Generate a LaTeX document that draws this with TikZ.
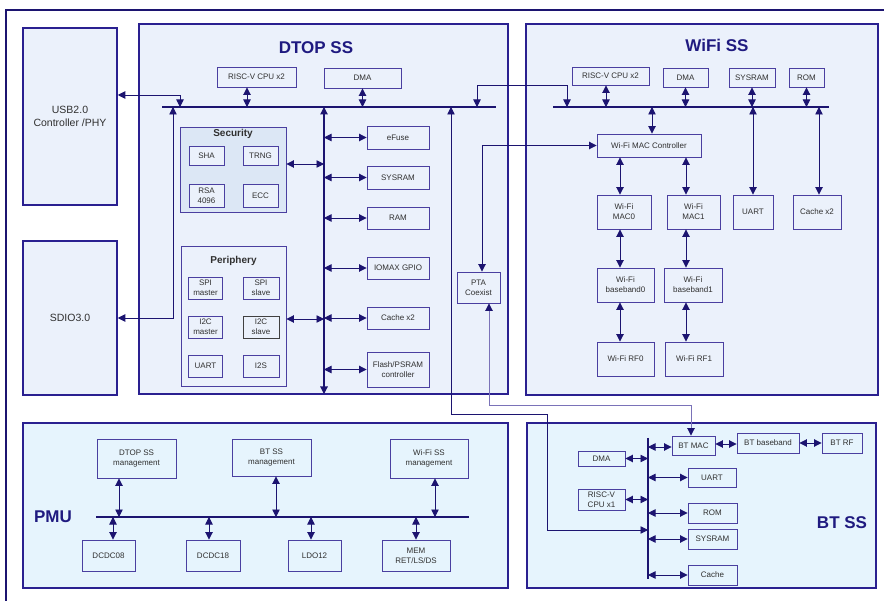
\documentclass[tikz,border=0pt]{standalone}
\usepackage{fontspec}
\setmainfont{Liberation Sans}
\usetikzlibrary{arrows.meta}
\definecolor{nav}{HTML}{1C1470}
\definecolor{bord}{HTML}{4A3FA0}
\definecolor{ssb}{HTML}{2A2090}
\definecolor{fillA}{HTML}{EBF1FB}
\definecolor{fillB}{HTML}{E6F4FD}
\definecolor{fillS}{HTML}{DCE7F5}
\definecolor{txt}{HTML}{303030}
\definecolor{ttlc}{HTML}{1F1A80}
\definecolor{pale}{HTML}{7A72B8}
\begin{document}
\begin{tikzpicture}[x=1pt,y=-1pt,
  box/.style={draw=bord, line width=0.9pt, inner sep=0pt, align=center, text=txt,
              font=\fontsize{8}{10.2}\selectfont},
  ssbox/.style={draw=ssb, line width=1.5pt, inner sep=0pt},
  bigbox/.style={draw=ssb, line width=1.5pt, inner sep=0pt, fill=fillA, align=center,
              text=txt, font=\fontsize{10.5}{13}\selectfont},
  grp/.style={draw=bord, line width=0.9pt, inner sep=0pt},
  grpt/.style={text=txt, font=\fontsize{10}{12}\selectfont\bfseries},
  ttl/.style={text=ttlc, font=\fontsize{17}{18}\selectfont\bfseries},
  tip/.tip={Triangle[length=7.5pt,width=7.5pt,color=nav]},
  dbl/.style={draw=nav, line width=0.9pt, tip-tip},
  bus/.style={draw=nav, line width=1.8pt}]
\useasboundingbox (0,0) rectangle (884,601);
\clip (0,0) rectangle (884,601);
\draw[nav, line width=1.8pt] (6,620) |- (900,10);

% ---------- subsystem frames ----------
\node[bigbox, minimum width=94pt, minimum height=177pt] (usb) at (70,116.5) {USB2.0\\Controller /PHY};
\node[bigbox, minimum width=94pt, minimum height=154pt] (sdio) at (70,318) {SDIO3.0};
\node[ssbox, fill=fillA, minimum width=369pt, minimum height=370pt] (dtop) at (323.5,209) {};
\node[ssbox, fill=fillA, minimum width=352pt, minimum height=371pt] (wifi) at (702,209.5) {};
\node[ssbox, fill=fillB, minimum width=485pt, minimum height=165pt] (pmu) at (265.5,505.5) {};
\node[ssbox, fill=fillB, minimum width=349pt, minimum height=165pt] (bt) at (701.5,505.5) {};

\node[ttl] (tdtop) at (316,48) {DTOP SS};
\node[ttl] (twifi) at (717,45) {WiFi SS};
\node[ttl] (tpmu) at (53,517) {PMU};
\node[ttl] (tbt) at (842,523) {BT SS};

% ---------- helper coordinates ----------
\coordinate (db1) at (162,107); \coordinate (db2) at (496,107);
\coordinate (wb1) at (553,107); \coordinate (wb2) at (829,107);
\coordinate (pb1) at (96,517);  \coordinate (pb2) at (469,517);
\coordinate (bb1) at (648,438); \coordinate (bb2) at (648,579);
\coordinate (dvt) at (324,107); \coordinate (dvb) at (324,394);

% ---------- DTOP SS ----------
\node[box, fill=fillA, minimum width=79pt, minimum height=20pt] (dcpu) at (256.5,77) {RISC-V CPU x2};
\node[box, fill=fillA, minimum width=77pt, minimum height=20pt] (ddma) at (362.5,78) {DMA};

\node[grp, fill=fillS, minimum width=106pt, minimum height=85pt] (sec) at (233,169.5) {};
\node[grpt] (sect) at (233,133.5) {Security};
\node[box, fill=fillA, minimum width=35pt, minimum height=19pt] (sha) at (206.5,155.5) {SHA};
\node[box, fill=fillA, minimum width=35pt, minimum height=19pt] (trng) at (260.5,155.5) {TRNG};
\node[box, fill=fillA, minimum width=35pt, minimum height=23pt] (rsa) at (206.5,195.5) {RSA\\4096};
\node[box, fill=fillA, minimum width=35pt, minimum height=23pt] (ecc) at (260.5,195.5) {ECC};

\node[grp, fill=fillA, minimum width=105pt, minimum height=140pt] (peri) at (233.5,316) {};
\node[grpt] (perit) at (233.5,261) {Periphery};
\node[box, fill=fillA, minimum width=34pt, minimum height=22pt] (spim) at (205.5,288) {SPI\\master};
\node[box, fill=fillA, minimum width=36pt, minimum height=22pt] (spis) at (261,288) {SPI\\slave};
\node[box, fill=fillA, minimum width=34pt, minimum height=22pt] (i2cm) at (205.5,327) {I2C\\master};
\node[box, fill=fillA, draw=black!75, minimum width=36pt, minimum height=22pt] (i2cs) at (261,327) {I2C\\slave};
\node[box, fill=fillA, minimum width=34pt, minimum height=22pt] (puart) at (205.5,366) {UART};
\node[box, fill=fillA, minimum width=36pt, minimum height=22pt] (i2s) at (261,366) {I2S};

\node[box, fill=fillA, minimum width=62pt, minimum height=23pt] (efuse) at (398,137.5) {eFuse};
\node[box, fill=fillA, minimum width=62pt, minimum height=23pt] (dsys) at (398,177.5) {SYSRAM};
\node[box, fill=fillA, minimum width=62pt, minimum height=22pt] (dram) at (398,218) {RAM};
\node[box, fill=fillA, minimum width=62pt, minimum height=22pt] (gpio) at (398,268) {IOMAX GPIO};
\node[box, fill=fillA, minimum width=62pt, minimum height=22pt] (dcache) at (398,318) {Cache x2};
\node[box, fill=fillA, minimum width=62pt, minimum height=35pt] (flash) at (398,369.5) {Flash/PSRAM\\controller};

\node[box, fill=fillA, minimum width=43pt, minimum height=31pt] (pta) at (478.5,287.5) {PTA\\Coexist};

\draw[bus] (db1) -- (db2);
\coordinate (c247) at (247,0);
\draw[dbl] (dcpu.south -| c247) -- (db1 -| c247);
\draw[dbl] (ddma.south) -- (ddma.south |- db1);
\coordinate (r95) at (0,95); \coordinate (c180) at (180,0);
\draw[dbl] (usb.east |- r95) -| (db1 -| c180);
\coordinate (c173) at (173,0);
\draw[dbl] (sdio.east) -| (db1 -| c173);
\draw[dbl, line width=1.1pt] (dvb) -- (dvt);
\coordinate (r164) at (0,164); \coordinate (r319) at (0,319);
\draw[dbl] (sec.east |- r164) -- (dvt |- r164);
\draw[dbl] (peri.east |- r319) -- (dvt |- r319);
\draw[dbl] (dvt |- efuse.west) -- (efuse.west);
\draw[dbl] (dvt |- dsys.west) -- (dsys.west);
\draw[dbl] (dvt |- dram.west) -- (dram.west);
\draw[dbl] (dvt |- gpio.west) -- (gpio.west);
\draw[dbl] (dvt |- dcache.west) -- (dcache.west);
\draw[dbl] (dvt |- flash.west) -- (flash.west);

% ---------- WiFi SS ----------
\node[box, fill=fillA, minimum width=77pt, minimum height=18pt] (wcpu) at (610.5,76) {RISC-V CPU x2};
\node[box, fill=fillA, minimum width=45pt, minimum height=19pt] (wdma) at (685.5,77.5) {DMA};
\node[box, fill=fillA, minimum width=46pt, minimum height=19pt] (wsys) at (752,77.5) {SYSRAM};
\node[box, fill=fillA, minimum width=35pt, minimum height=19pt] (wrom) at (806.5,77.5) {ROM};
\node[box, fill=fillA, minimum width=104pt, minimum height=23pt] (macc) at (649,145.5) {Wi-Fi MAC Controller};
\node[box, fill=fillA, minimum width=54pt, minimum height=34pt] (mac0) at (624,212) {Wi-Fi\\MAC0};
\node[box, fill=fillA, minimum width=53pt, minimum height=34pt] (mac1) at (693.5,212) {Wi-Fi\\MAC1};
\node[box, fill=fillA, minimum width=40pt, minimum height=34pt] (wuart) at (753,212) {UART};
\node[box, fill=fillA, minimum width=48pt, minimum height=34pt] (wcache) at (817,212) {Cache x2};
\node[box, fill=fillA, minimum width=57pt, minimum height=34pt] (bb0) at (625.5,285) {Wi-Fi\\baseband0};
\node[box, fill=fillA, minimum width=58pt, minimum height=34pt] (bbb1) at (693,285) {Wi-Fi\\baseband1};
\node[box, fill=fillA, minimum width=57pt, minimum height=34pt] (rf0) at (625.5,359) {Wi-Fi RF0};
\node[box, fill=fillA, minimum width=58pt, minimum height=34pt] (rf1) at (694,359) {Wi-Fi RF1};

\draw[bus] (wb1) -- (wb2);
\coordinate (c606) at (606,0); \coordinate (c652) at (652,0); \coordinate (c819) at (819,0);
\coordinate (c620) at (620,0); \coordinate (c686) at (686,0);
\draw[dbl] (wcpu.south -| c606) -- (wb1 -| c606);
\draw[dbl] (wdma.south) -- (wdma.south |- wb1);
\draw[dbl] (wsys.south) -- (wsys.south |- wb1);
\draw[dbl] (wrom.south) -- (wrom.south |- wb1);
\draw[dbl] (wb1 -| c652) -- (macc.north -| c652);
\draw[dbl] (wb1 -| wuart.north) -- (wuart.north);
\draw[dbl] (wb1 -| c819) -- (wcache.north -| c819);
\draw[dbl] (macc.south -| c620) -- (mac0.north -| c620);
\draw[dbl] (macc.south -| c686) -- (mac1.north -| c686);
\draw[dbl] (mac0.south -| c620) -- (bb0.north -| c620);
\draw[dbl] (mac1.south -| c686) -- (bbb1.north -| c686);
\draw[dbl] (bb0.south -| c620) -- (rf0.north -| c620);
\draw[dbl] (bbb1.south -| c686) -- (rf1.north -| c686);

% ---------- PMU ----------
\node[box, fill=fillB, minimum width=79pt, minimum height=39pt] (pm1) at (136.5,458.5) {DTOP SS\\management};
\node[box, fill=fillB, minimum width=79pt, minimum height=37pt] (pm2) at (271.5,457.5) {BT SS\\management};
\node[box, fill=fillB, minimum width=78pt, minimum height=39pt] (pm3) at (429,458.5) {Wi-Fi SS\\management};
\node[box, fill=fillB, minimum width=53pt, minimum height=31pt] (dc08) at (108.5,555.5) {DCDC08};
\node[box, fill=fillB, minimum width=54pt, minimum height=31pt] (dc18) at (213,555.5) {DCDC18};
\node[box, fill=fillB, minimum width=53pt, minimum height=31pt] (ldo) at (314.5,555.5) {LDO12};
\node[box, fill=fillB, minimum width=68pt, minimum height=31pt] (mem) at (416,555.5) {MEM\\RET/LS/DS};
\draw[bus] (pb1) -- (pb2);
\coordinate (c119) at (119,0); \coordinate (c276) at (276,0); \coordinate (c435) at (435,0);
\coordinate (c113) at (113,0); \coordinate (c209) at (209,0); \coordinate (c311) at (311,0);
\draw[dbl] (pm1.south -| c119) -- (pb1 -| c119);
\draw[dbl] (pm2.south -| c276) -- (pb1 -| c276);
\draw[dbl] (pm3.south -| c435) -- (pb1 -| c435);
\draw[dbl] (pb1 -| c113) -- (dc08.north -| c113);
\draw[dbl] (pb1 -| c209) -- (dc18.north -| c209);
\draw[dbl] (pb1 -| c311) -- (ldo.north -| c311);
\draw[dbl] (pb1 -| mem.north) -- (mem.north);

% ---------- BT SS ----------
\node[box, fill=fillB, minimum width=43pt, minimum height=19pt] (btmac) at (693.5,445.5) {BT MAC};
\node[box, fill=fillB, minimum width=62pt, minimum height=20pt] (btbb) at (768,443) {BT baseband};
\node[box, fill=fillB, minimum width=40pt, minimum height=20pt] (btrf) at (842,443) {BT RF};
\node[box, fill=fillB, minimum width=47pt, minimum height=15pt] (btdma) at (601.5,458.5) {DMA};
\node[box, fill=fillB, minimum width=48pt, minimum height=19pt] (btuart) at (712,477.5) {UART};
\node[box, fill=fillB, minimum width=47pt, minimum height=21pt] (btcpu) at (601.5,499.5) {RISC-V\\CPU x1};
\node[box, fill=fillB, minimum width=49pt, minimum height=20pt] (btrom) at (712.5,513) {ROM};
\node[box, fill=fillB, minimum width=49pt, minimum height=20pt] (btsys) at (712.5,539) {SYSRAM};
\node[box, fill=fillB, minimum width=49pt, minimum height=20pt] (btcache) at (712.5,575) {Cache};
\draw[bus] (bb1) -- (bb2);
\coordinate (r447) at (0,447); \coordinate (r444) at (0,444);
\draw[dbl] (bb1 |- r447) -- (btmac.west |- r447);
\draw[dbl] (btmac.east |- r444) -- (btbb.west |- r444);
\draw[dbl] (btbb.east) -- (btrf.west);
\draw[dbl] (btdma.east) -- (bb1 |- btdma.east);
\draw[dbl] (btcpu.east) -- (bb1 |- btcpu.east);
\draw[dbl] (bb1 |- btuart.west) -- (btuart.west);
\draw[dbl] (bb1 |- btrom.west) -- (btrom.west);
\draw[dbl] (bb1 |- btsys.west) -- (btsys.west);
\draw[dbl] (bb1 |- btcache.west) -- (btcache.west);

% ---------- cross-subsystem connectors ----------
\coordinate (r85) at (0,85); \coordinate (dw1) at (477,107); \coordinate (dw2) at (567,107);
\draw[dbl] (dw1) |- (dw2 |- r85) -- (dw2);
\coordinate (c482) at (482,0);
\draw[dbl] (macc.west) -| (pta.north -| c482);
\coordinate (c489) at (489,0); \coordinate (r405) at (0,405); \coordinate (c691) at (691,0);
\draw[dbl, draw=pale] (pta.south -| c489) |- (r405 -| c691) -- (btmac.north -| c691);
\coordinate (c451) at (451,107); \coordinate (k1) at (451,414); \coordinate (k2) at (547,414);
\coordinate (btin) at (648,530);
\draw[dbl] (c451) -- (k1) -- (k2) |- (btin);
\end{tikzpicture}
\end{document}
